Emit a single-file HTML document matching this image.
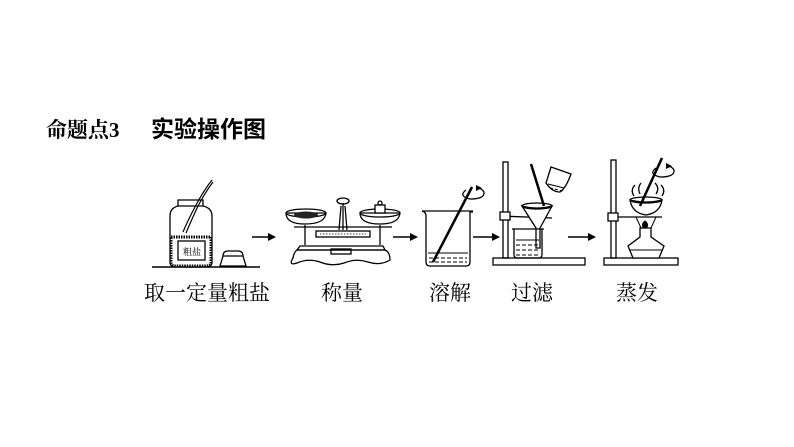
<!DOCTYPE html>
<html><head><meta charset="utf-8"><style>
html,body{margin:0;padding:0;background:#fff;}
svg{display:block;}
</style></head><body>
<svg width="794" height="447" viewBox="0 0 794 447" xmlns="http://www.w3.org/2000/svg">
<rect width="794" height="447" fill="#fff"/>
<text x="46" y="137" font-family="'Liberation Serif','Noto Serif CJK SC',serif" font-weight="bold" font-size="21" fill="#000">命题点3</text>
<text x="151" y="137" font-family="'Liberation Sans','Noto Sans CJK SC',sans-serif" font-weight="bold" font-size="23" fill="#000">实验操作图</text>

<g font-family="'Liberation Serif','Noto Serif CJK SC',serif" font-size="21" fill="#000">
<text x="144" y="300">取一定量粗盐</text>
<text x="321" y="300">称量</text>
<text x="429" y="300">溶解</text>
<text x="511" y="300">过滤</text>
<text x="616" y="300">蒸发</text>
</g>

<g stroke="#000" stroke-width="1.5" fill="none">
<line x1="252" y1="237" x2="270" y2="237"/>
<line x1="393" y1="237" x2="412" y2="237"/>
<line x1="473" y1="237" x2="494" y2="237"/>
<line x1="568" y1="237" x2="590" y2="237"/>
</g>
<g fill="#000">
<polygon points="276,237 268,233 268,241"/>
<polygon points="418,237 410,233 410,241"/>
<polygon points="500,237 492,233 492,241"/>
<polygon points="596,237 588,233 588,241"/>
</g>

<!-- jar -->
<g stroke="#000" stroke-width="1.3" fill="none">
<line x1="152" y1="267" x2="260" y2="267" stroke-width="1.6"/>
<path d="M178,200 H203 V206 Q212,208 212,216 V262 Q212,267 206,267 H176 Q170,267 170,262 V216 Q170,208 178,206 Z" fill="#fff"/>
<line x1="178" y1="206" x2="203" y2="206"/>
<path d="M171,237 H211 V262 Q211,266 206,266 H176 Q171,266 171,262 Z" fill="#fff" stroke="#000" stroke-width="3" stroke-dasharray="1.5 1"/>
<rect x="178" y="241" width="27" height="19" fill="#fff"/>
<path d="M183,232 Q188,220 196,205 Q204,190 212,180" stroke-width="1.2"/>
<path d="M186,233 Q191,221 198,206 Q206,191 213,182" stroke-width="1.2"/>
<path d="M220,266 L223,256 Q223,251 228,251 H238 Q243,251 243,256 L246,266 Z" fill="#fff"/>
<line x1="223" y1="256" x2="243" y2="256"/>
</g>
<text x="183" y="255" font-family="'Noto Serif CJK SC',serif" font-size="9" fill="#000">粗盐</text>

<!-- balance -->
<g stroke="#000" stroke-width="1.3" fill="none">
<path d="M297,250 H385 Q390,252 390,260 Q380,266 368,262 Q356,258 344,263 Q332,267 320,262 Q308,258 297,263 Q288,266 293,258 Q294,252 297,250 Z"/>
<path d="M300,246 H383 L385,250 H297 Z"/>
<rect x="331" y="249" width="20" height="5"/>
<rect x="316" y="231" width="54" height="6"/>
<line x1="320" y1="234" x2="366" y2="234" stroke-dasharray="1.5 1.5" stroke-width="0.8"/>
<line x1="343" y1="230" x2="343" y2="203"/>
<line x1="339" y1="230" x2="341" y2="206"/>
<line x1="347" y1="230" x2="345" y2="206"/>
<ellipse cx="343" cy="201" rx="6" ry="3"/>
<line x1="294" y1="227" x2="392" y2="227"/>
<line x1="305" y1="225" x2="305" y2="245"/>
<line x1="380" y1="225" x2="380" y2="245"/>
<path d="M286,213 Q286,224 305,224 Q325,224 326,213 Z"/>
<ellipse cx="306" cy="213" rx="20" ry="4"/>
<path d="M360,213 Q360,224 380,224 Q399,224 400,213 Z"/>
<ellipse cx="380" cy="213" rx="20" ry="4"/>
<rect x="375" y="205" width="10" height="8" fill="#fff"/>
<circle cx="380" cy="203" r="2"/>
</g>
<ellipse cx="306" cy="215" rx="12" ry="3.5" fill="#222"/>

<!-- dissolve beaker -->
<g stroke="#000" stroke-width="1.3" fill="none">
<path d="M422,211 Q426,212 426,216 V262 Q426,266 430,266 H466 Q470,266 470,262 V212 H473"/>
<line x1="422" y1="211" x2="473" y2="211"/>
<g stroke-width="1"><line x1="428" y1="253" x2="468" y2="253"/><line x1="429" y1="258" x2="467" y2="258" stroke-dasharray="4 2"/><line x1="429" y1="262" x2="467" y2="262" stroke-dasharray="4 2"/></g>
<line x1="433" y1="262" x2="472" y2="187" stroke-width="2.5"/>
<path d="M466,190 Q458,196 470,199 Q485,199 484,192 Q482,188 476,188"/>
</g>
<polygon points="476,185 482,188 476,191" fill="#000"/>

<!-- filtration -->
<g stroke="#000" stroke-width="1.3" fill="none">
<rect x="493" y="258" width="92" height="7"/>
<rect x="503" y="162" width="5" height="96"/>
<line x1="500" y1="216" x2="552" y2="218"/>
<rect x="500" y="212" width="10" height="8" fill="#fff"/>
<path d="M522,206 Q537,210 552,206 L540,228 V248 H536 V228 Z" fill="#fff"/>
<ellipse cx="537" cy="206" rx="15" ry="3"/>
<path d="M514,229 V255 Q514,258 518,258 H538 Q542,258 542,255 V229"/>
<line x1="512" y1="229" x2="544" y2="229"/>
<g stroke-width="1"><line x1="516" y1="240" x2="539" y2="240"/><line x1="516" y1="245" x2="539" y2="245" stroke-dasharray="4 2"/><line x1="516" y1="250" x2="539" y2="250" stroke-dasharray="4 2"/><line x1="516" y1="255" x2="539" y2="255" stroke-dasharray="4 2"/></g>
<line x1="531" y1="164" x2="544" y2="206" stroke-width="2.5"/>
<path d="M546,183 L551,167 L571,174 Q566,188 560,192 Q552,192 546,183 Z" fill="#fff"/>
<line x1="548" y1="184" x2="564" y2="188" stroke-width="1"/>
<line x1="550" y1="188" x2="563" y2="191" stroke-width="1" stroke-dasharray="3 2"/>
</g>

<!-- evaporation -->
<g stroke="#000" stroke-width="1.3" fill="none">
<rect x="604" y="258" width="74" height="7"/>
<rect x="611" y="160" width="5" height="98"/>
<line x1="608" y1="217" x2="662" y2="217"/>
<rect x="608" y="213" width="10" height="8" fill="#fff"/>
<path d="M630,200 Q646,204 662,200 Q660,213 646,215 Q632,213 630,200 Z" fill="#fff"/>
<ellipse cx="646" cy="200" rx="16" ry="3"/>
<path d="M634,196 Q630,190 635,185 M640,194 Q637,188 641,183 M656,194 Q660,188 655,183 M662,196 Q666,190 661,185"/>
<path d="M636,217 L641,228 M656,217 L651,228" stroke-width="1"/>
<path d="M640,228 H651 V237 L664,246 L659,258 H633 L628,246 L640,237 Z" fill="#fff"/>
<line x1="630" y1="250" x2="662" y2="250" stroke-width="1"/>
<path d="M645,221 Q640,226 645,228 Q650,226 645,221" fill="#000"/>
<line x1="640" y1="206" x2="662" y2="158" stroke-width="2.5"/>
<path d="M656,168 Q648,174 660,177 Q675,177 674,170 Q672,166 666,166"/>
</g>
<polygon points="666,163 672,166 666,169" fill="#000"/>
</svg>
</body></html>
